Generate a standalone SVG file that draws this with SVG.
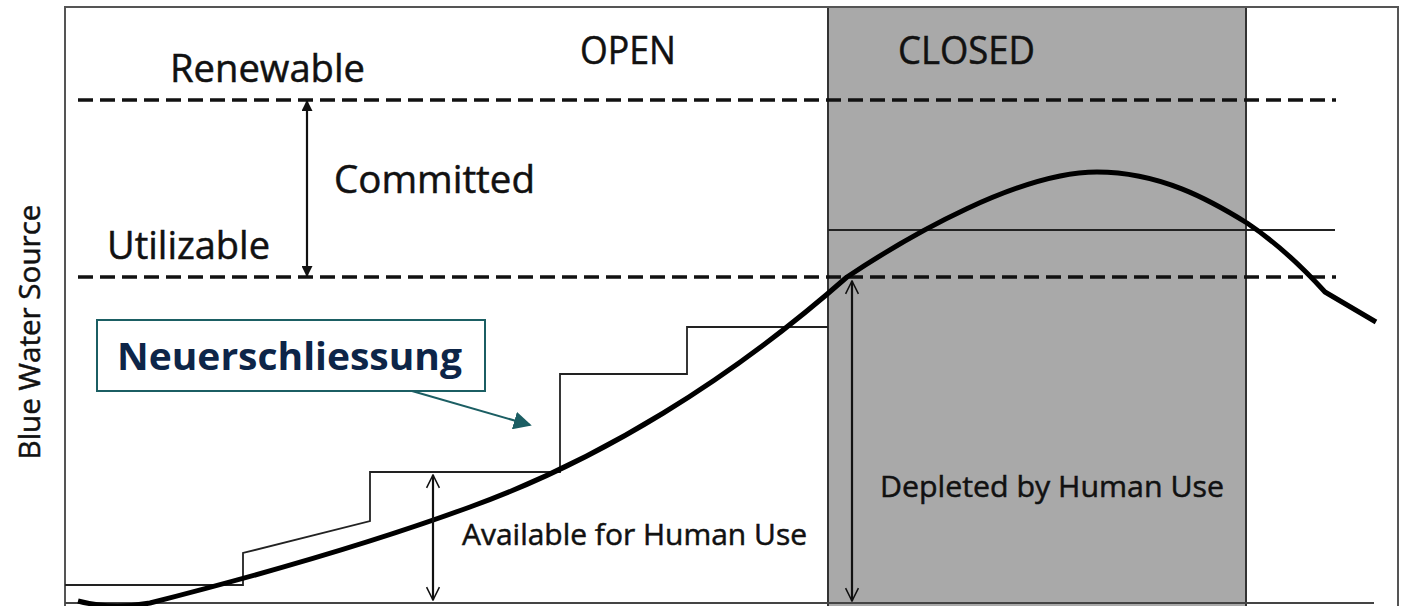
<svg xmlns="http://www.w3.org/2000/svg" width="1402" height="606" viewBox="0 0 1402 606">
<defs>
<style>
.lbl{font-family:"Open Sans","Liberation Sans",sans-serif;fill:#111;stroke:#111;stroke-width:0.5;}
.big{font-size:38px;}
.mid{font-size:30px;}
.dash{stroke:#111;stroke-width:3.5;stroke-dasharray:15 7;fill:none;}
.thin{stroke:#222;stroke-width:1.8;fill:none;}
.arr{stroke:#111;stroke-width:2.2;fill:none;}
</style>
<marker id="fillHead" viewBox="0 0 10 10" refX="9" refY="5" markerWidth="5" markerHeight="5" orient="auto-start-reverse" markerUnits="strokeWidth">
<path d="M0,0 L10,5 L0,10 Z" fill="#111"/>
</marker>
<marker id="openHead" viewBox="0 0 12 12" refX="11" refY="6" markerWidth="7" markerHeight="7" orient="auto-start-reverse" markerUnits="strokeWidth">
<path d="M1,1 L11,6 L1,11" fill="none" stroke="#111" stroke-width="1.2"/>
</marker>
<marker id="tealHead" viewBox="0 0 10 10" refX="9" refY="5" markerWidth="9" markerHeight="9" orient="auto" markerUnits="strokeWidth">
<path d="M0,0 L10,5 L0,10 Z" fill="#1b5e63"/>
</marker>
</defs>
<rect x="0" y="0" width="1402" height="606" fill="#ffffff"/>
<g id="closed-zone">
<rect x="828" y="7" width="418" height="600" fill="#a9a9a9"/>
<line x1="828" y1="7" x2="828" y2="606" stroke="#333" stroke-width="2"/>
<line x1="1246" y1="7" x2="1246" y2="606" stroke="#333" stroke-width="2"/>
</g>
<g id="frame">
<polyline points="65,606 65,7 1398,7 1398,606" fill="none" stroke="#555" stroke-width="2"/>
<line x1="65" y1="603" x2="1374" y2="603" stroke="#444" stroke-width="2"/>
</g>
<g id="levels">
<line class="dash" x1="78" y1="100" x2="1336" y2="100"/>
<line class="dash" x1="78" y1="277" x2="1336" y2="277"/>
<line class="thin" x1="828" y1="230" x2="1335" y2="230"/>
</g>
<g id="steps">
<polyline class="thin" points="65,585 243,585 243,553 370,521 370,472 560,472 560,374 687,374 687,327 828,327"/>
</g>
<g id="curve">
<path d="M78,601 Q112,610 150,603 C260,575 380,540 470,507 C600,460 730,380 847,277 C910,235 1020,172 1097,172 C1160,172 1210,200 1247,223 C1280,245 1305,270 1325,292 L1376,322" fill="none" stroke="#000" stroke-width="5" stroke-linejoin="round"/>
</g>
<g id="connectors">
<line class="arr" x1="307" y1="101" x2="307" y2="276" marker-start="url(#fillHead)" marker-end="url(#fillHead)"/>
<line class="arr" x1="433" y1="475" x2="433" y2="600" marker-start="url(#openHead)" marker-end="url(#openHead)"/>
<line class="arr" x1="852" y1="281" x2="852" y2="601" marker-start="url(#openHead)" marker-end="url(#openHead)"/>
<line x1="412" y1="391" x2="530" y2="425" stroke="#1b5e63" stroke-width="2" marker-end="url(#tealHead)"/>
</g>
<g id="labels">
<text class="lbl big" x="170" y="82" textLength="195" lengthAdjust="spacingAndGlyphs">Renewable</text>
<text class="lbl big" x="580" y="64" textLength="96" lengthAdjust="spacingAndGlyphs">OPEN</text>
<text class="lbl big" x="898" y="64" textLength="137" lengthAdjust="spacingAndGlyphs">CLOSED</text>
<text class="lbl big" x="334" y="193" textLength="201" lengthAdjust="spacingAndGlyphs">Committed</text>
<text class="lbl big" x="107" y="259" textLength="163" lengthAdjust="spacingAndGlyphs">Utilizable</text>
<text class="lbl mid" x="880" y="497" textLength="344" lengthAdjust="spacingAndGlyphs">Depleted by Human Use</text>
<text class="lbl mid" x="462" y="545" textLength="345" lengthAdjust="spacingAndGlyphs">Available for Human Use</text>
<text class="lbl mid" transform="translate(40,332) rotate(-90)" text-anchor="middle" textLength="255" lengthAdjust="spacingAndGlyphs">Blue Water Source</text>
</g>
<g id="neuerschliessung">
<rect x="97" y="320" width="388" height="71" fill="#ffffff" stroke="#1b5e63" stroke-width="2"/>
<text x="117" y="370" font-family="'Open Sans','Liberation Sans',sans-serif" font-weight="bold" font-size="37" fill="#0d2548" textLength="345" lengthAdjust="spacingAndGlyphs">Neuerschliessung</text>
</g>
</svg>
